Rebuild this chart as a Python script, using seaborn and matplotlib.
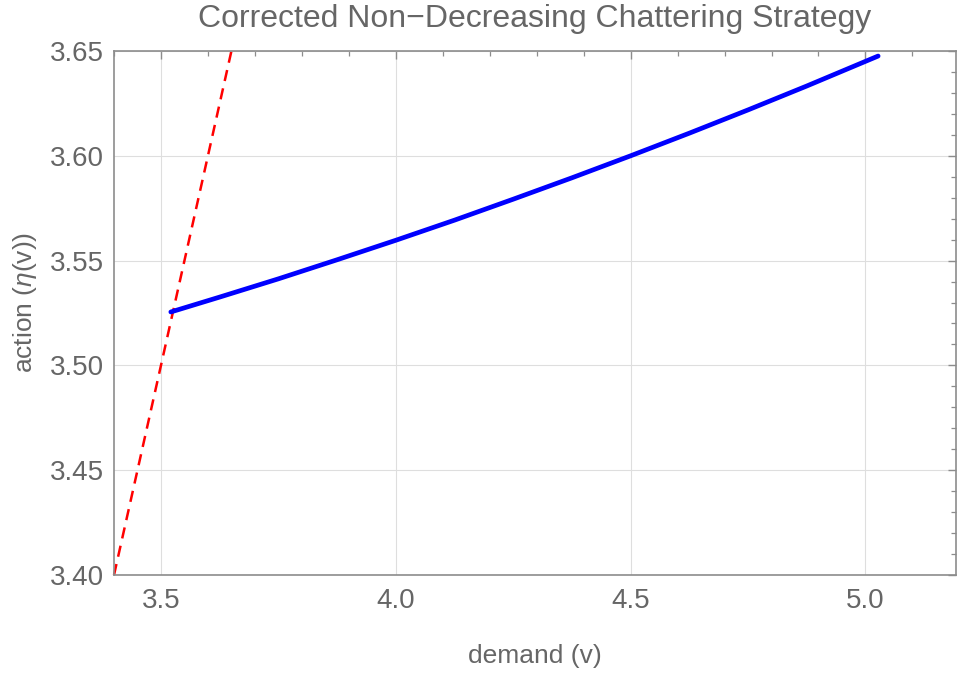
import matplotlib
matplotlib.use("Agg")
import matplotlib.pyplot as plt
import pandas as pd
import seaborn as sns
from matplotlib.ticker import MultipleLocator, FormatStrFormatter

# blue curve: the corrected strategy
demand = [3.521, 3.625, 3.75, 3.875, 4.0, 4.125, 4.25, 4.375,
          4.5, 4.625, 4.75, 4.875, 5.027]
action = [3.5255, 3.5326, 3.5413, 3.5504, 3.5597, 3.5693, 3.5793, 3.5895,
          3.6000, 3.6108, 3.6219, 3.6333, 3.6476]

# red dashed diagonal (action = demand)
diag_x = [3.40, 3.65]
diag_y = [3.40, 3.65]

sns.set_style("white")
plt.rcParams['font.family'] = ['Liberation Sans', 'DejaVu Sans']
plt.rcParams['mathtext.fontset'] = 'custom'
plt.rcParams['mathtext.it'] = 'Liberation Sans:italic'
plt.rcParams['mathtext.rm'] = 'Liberation Sans'

txt = '#666666'
frame = '#8c8c8c'

fig = plt.figure(figsize=(9.58, 6.73), dpi=100)
ax = fig.add_axes([0.119, 0.1456, 0.879, 0.7786])

curve = pd.DataFrame({'v': demand, 'eta': action})
diag = pd.DataFrame({'v': diag_x, 'eta': diag_y})

sns.lineplot(data=diag, x='v', y='eta', ax=ax, color='#ff0000', lw=1.8,
             dashes=False, linestyle=(0, (4.5, 3)), clip_on=False)
sns.lineplot(data=curve, x='v', y='eta', ax=ax, color='#0000ff', lw=3.4,
             clip_on=False)

ax.set_xlim(3.4, 5.193)
ax.set_ylim(3.40, 3.65)

ax.xaxis.set_major_locator(MultipleLocator(0.5))
ax.xaxis.set_minor_locator(MultipleLocator(0.1))
ax.yaxis.set_major_locator(MultipleLocator(0.05))
ax.yaxis.set_minor_locator(MultipleLocator(0.01))
ax.xaxis.set_major_formatter(FormatStrFormatter('%.1f'))
ax.yaxis.set_major_formatter(FormatStrFormatter('%.2f'))

ax.grid(True, which='major', color='#dedede', lw=0.8)
ax.set_axisbelow(True)

for s in ax.spines.values():
    s.set_color(frame)
    s.set_linewidth(1.2)

ax.tick_params(which='both', direction='in', top=True, right=True,
               color=frame, labelcolor=txt, labelsize=20)
ax.tick_params(axis='x', pad=9)
ax.tick_params(axis='y', pad=7)
ax.tick_params(which='major', length=6, width=1)
ax.tick_params(which='minor', length=3.5, width=0.9)

ax.set_xlabel('demand (v)', fontsize=19, color=txt, labelpad=22)
ax.set_ylabel(r'action ($\eta$(v))', fontsize=19, color=txt)
ax.yaxis.set_label_coords(-0.089, 0.521)
ax.set_title('Corrected Non\u2212Decreasing Chattering Strategy',
             fontsize=23, color=txt, pad=17)

fig.savefig('out.png', dpi=100)
